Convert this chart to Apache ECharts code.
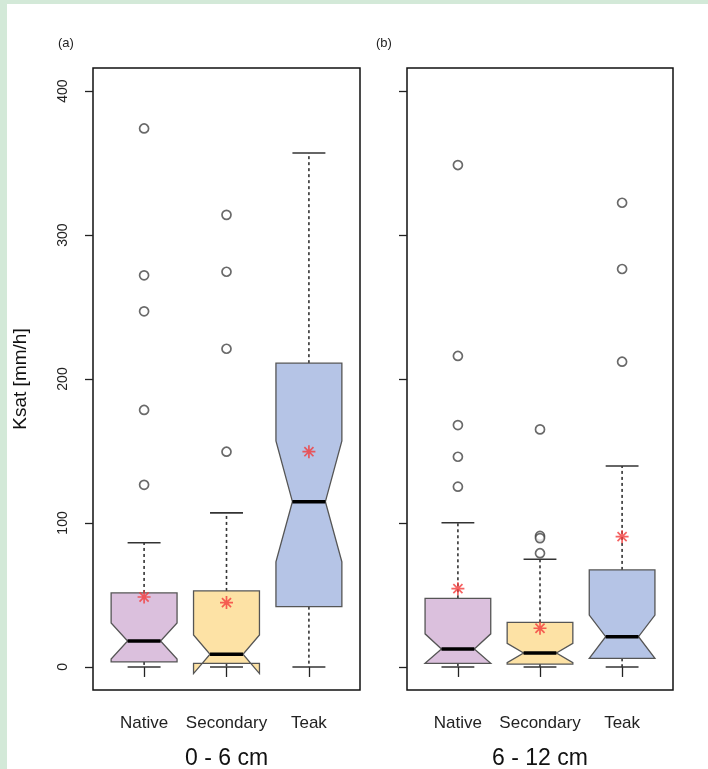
<!DOCTYPE html>
<html>
<head>
<meta charset="utf-8">
<script src="https://cdn.jsdelivr.net/npm/echarts@6/dist/echarts.min.js"></script>
<style>
  html, body { margin: 0; padding: 0; background: #d3e9d8; }
  #chart { position: absolute; left: 7px; top: 4px; width: 701px; height: 765px; background: #ffffff; }
</style>
</head>
<body>
<div id="chart"></div>
<script>
// ---------------- data ----------------
const categories = ['Native', 'Secondary', 'Teak'];
const panelLabels = ['(a)', '(b)'];
const depthLabels = ['0 - 6 cm', '6 - 12 cm'];
const yAxisName = 'Ksat [mm/h]';
const yTicks = [0, 100, 200, 300, 400];

// box stats per category: [lower whisker, Q1, median, Q3, upper whisker]
const boxStatsA = [
  [0, 3.5, 18, 51.4, 86.3],
  [0, 2.5, 8.8, 52.8, 107],
  [0, 41.9, 114.8, 211, 357]
];
const boxStatsB = [
  [0, 2.5, 12.5, 47.7, 100.2],
  [0, 2, 9.7, 31, 74.8],
  [0, 6, 21, 67.4, 139.6]
];
// notch [lower, upper]
const notchA = [[5.5, 30.5], [-4.6, 22.2], [73, 157]];
const notchB = [[2.5, 23], [3, 16.4], [6, 36]];
// means (red asterisks)
const meansA = [48.6, 44.7, 149.5];
const meansB = [54.4, 26.9, 90.5];
// outliers
const outNativeA = [374, 272, 247, 178.5, 126.5];
const outSecondaryA = [314, 274.5, 221, 149.5];
const outTeakA = [];
const outNativeB = [348.6, 216, 168, 146, 125.2];
const outSecondaryB = [165, 91, 89.5, 79];
const outTeakB = [322.4, 276.4, 212];

// ---------------- style ----------------
const fillColors = ['#dbc0dd', '#fde2a5', '#b5c4e6'];

function boxData(stats, notch) {
  return stats.map((s, i) => [i + 1, s[0], s[1], s[2], s[3], s[4], notch[i][0], notch[i][1], i]);
}
function outlierData(lists) {
  const out = [];
  lists.forEach((arr, i) => arr.forEach(v => out.push([i + 1, v])));
  return out;
}
function meanData(means) {
  return means.map((v, i) => [i + 1, v]);
}

function renderBox(params, api) {
  const x = api.value(0);
  const mn = api.value(1), q1 = api.value(2), md = api.value(3), q3 = api.value(4), mx = api.value(5);
  const nlo = api.value(6), nhi = api.value(7), ci = api.value(8);
  const w = api.size([0.8, 0])[0];
  const xc = api.coord([x, md])[0];
  const y = v => api.coord([x, v])[1];
  const xl = xc - w / 2, xr = xc + w / 2, xnl = xc - w / 4, xnr = xc + w / 4;
  const pts = [
    [xl, y(q1)], [xl, y(nlo)], [xnl, y(md)], [xl, y(nhi)], [xl, y(q3)],
    [xr, y(q3)], [xr, y(nhi)], [xnr, y(md)], [xr, y(nlo)], [xr, y(q1)]
  ];
  const whisk = { stroke: '#333', lineWidth: 1.6, lineDash: [3, 3] };
  const cap = { stroke: '#333', lineWidth: 1.6 };
  return {
    type: 'group',
    children: [
      { type: 'line', shape: { x1: xc, y1: y(q3), x2: xc, y2: y(mx) }, style: whisk },
      { type: 'line', shape: { x1: xc, y1: y(q1), x2: xc, y2: y(mn) }, style: whisk },
      { type: 'line', shape: { x1: xnl, y1: y(mx), x2: xnr, y2: y(mx) }, style: cap },
      { type: 'line', shape: { x1: xnl, y1: y(mn), x2: xnr, y2: y(mn) }, style: cap },
      { type: 'polygon', shape: { points: pts }, style: { fill: fillColors[ci], stroke: '#555', lineWidth: 1.3 } },
      { type: 'line', shape: { x1: xnl, y1: y(md), x2: xnr, y2: y(md) }, style: { stroke: '#000', lineWidth: 3.5 } }
    ]
  };
}

const starPath = 'path://M5,0L5,10M0,5L10,5M1.5,1.5L8.5,8.5M1.5,8.5L8.5,1.5';
const font = 'Liberation Sans, Arial, sans-serif';

const gridDefs = [
  { left: 86, top: 64, width: 267, height: 622, show: true, borderColor: '#111', borderWidth: 1.5, backgroundColor: 'transparent', outerBoundsMode: 'none', containLabel: false },
  { left: 400, top: 64, width: 266, height: 622, show: true, borderColor: '#111', borderWidth: 1.5, backgroundColor: 'transparent', outerBoundsMode: 'none', containLabel: false }
];

function xAxisDef(gi) {
  return {
    type: 'value', gridIndex: gi, min: 0.38, max: 3.62,
    axisLine: { show: false },
    splitLine: { show: false },
    axisTick: { show: true, customValues: [1, 2, 3], length: 10, inside: false, lineStyle: { color: '#222', width: 1.3 } },
    axisLabel: {
      show: true, customValues: [1, 2, 3], margin: 25,
      formatter: v => categories[Math.round(v) - 1] || '',
      color: '#222', fontSize: 17, fontFamily: font
    },
    name: depthLabels[gi], nameLocation: 'middle', nameGap: 57,
    nameTextStyle: { fontSize: 23, color: '#111', fontFamily: font }
  };
}
function yAxisDef(gi) {
  return {
    type: 'value', gridIndex: gi, min: -16, max: 416,
    axisLine: { show: false },
    splitLine: { show: false },
    axisTick: { show: true, customValues: yTicks, length: 8, inside: false, lineStyle: { color: '#222', width: 1.3 } },
    axisLabel: {
      show: gi === 0, customValues: yTicks, rotate: 90, margin: 23,
      color: '#222', fontSize: 14, fontFamily: font
    },
    name: gi === 0 ? yAxisName : '', nameLocation: 'middle', nameGap: 63, nameRotate: 90,
    nameTextStyle: { fontSize: 19, color: '#111', fontFamily: font }
  };
}

function panelSeries(gi, stats, notch, outs, means) {
  return [
    {
      type: 'custom', xAxisIndex: gi, yAxisIndex: gi,
      renderItem: renderBox, data: boxData(stats, notch), z: 2, silent: true,
      encode: { x: 0, y: [1, 2, 3, 4, 5] }
    },
    {
      type: 'scatter', xAxisIndex: gi, yAxisIndex: gi,
      data: outlierData(outs), symbol: 'circle', symbolSize: 9, z: 3, silent: true,
      itemStyle: { color: '#ffffff', borderColor: '#444', borderWidth: 1.7 }
    },
    {
      type: 'scatter', xAxisIndex: gi, yAxisIndex: gi,
      data: meanData(means), symbol: starPath, symbolSize: 13, z: 4, silent: true,
      itemStyle: { color: 'none', borderColor: '#f23b3b', borderWidth: 1.7 }
    }
  ];
}

const chart = echarts.init(document.getElementById('chart'), null, { renderer: 'canvas' });
chart.setOption({
  animation: false,
  backgroundColor: '#ffffff',
  title: [
    { text: panelLabels[0], left: 46, top: 28, textStyle: { fontSize: 13, fontWeight: 'normal', color: '#222', fontFamily: font } },
    { text: panelLabels[1], left: 364, top: 28, textStyle: { fontSize: 13, fontWeight: 'normal', color: '#222', fontFamily: font } }
  ],
  grid: gridDefs,
  xAxis: [xAxisDef(0), xAxisDef(1)],
  yAxis: [yAxisDef(0), yAxisDef(1)],
  series: [
    ...panelSeries(0, boxStatsA, notchA, [outNativeA, outSecondaryA, outTeakA], meansA),
    ...panelSeries(1, boxStatsB, notchB, [outNativeB, outSecondaryB, outTeakB], meansB)
  ]
});
</script>
</body>
</html>
